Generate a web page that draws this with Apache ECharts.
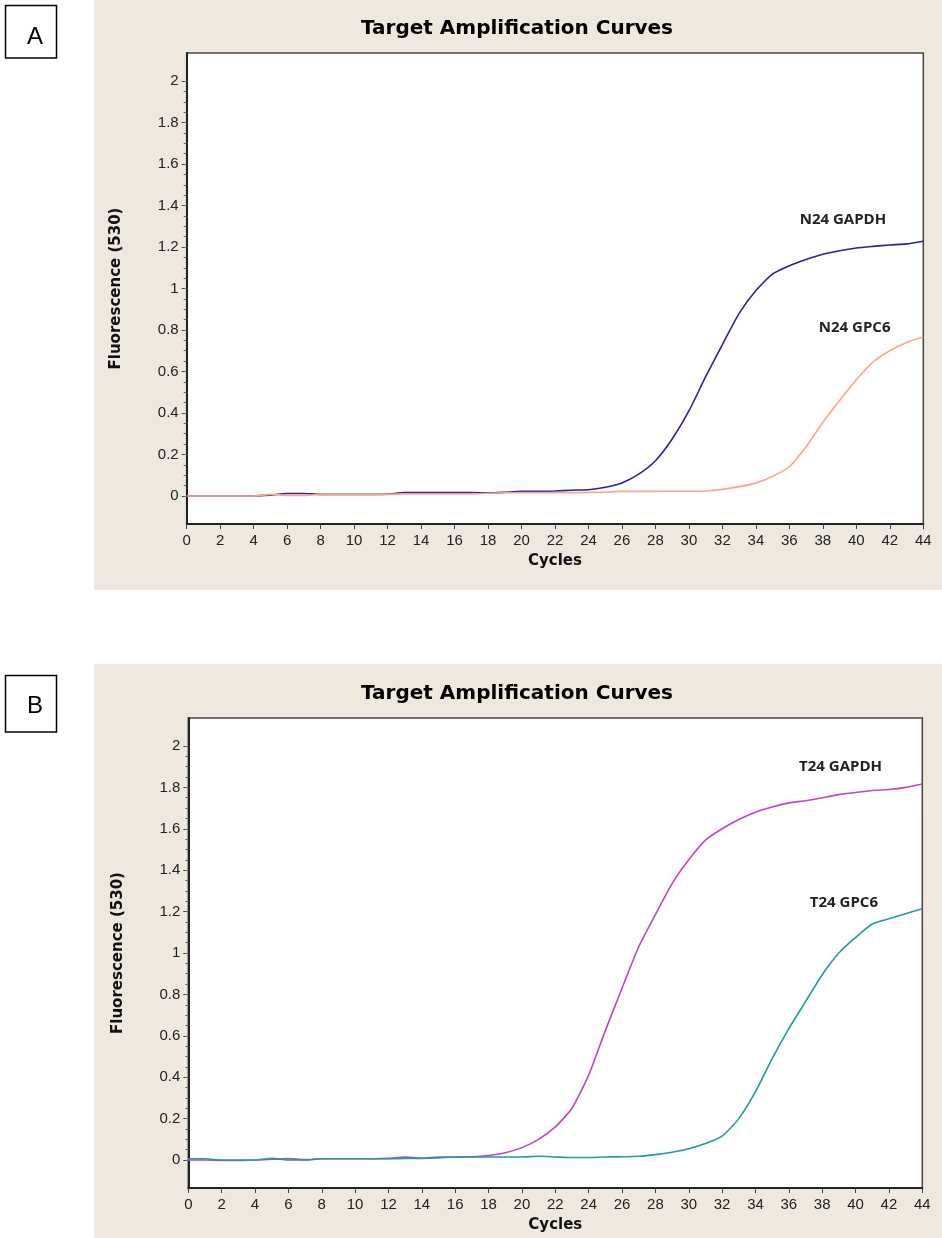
<!DOCTYPE html>
<html>
<head>
<meta charset="utf-8">
<script src="https://cdn.jsdelivr.net/npm/echarts@6/dist/echarts.min.js"></script>
<style>html,body{margin:0;padding:0;background:#fff;}#c{width:942px;height:1238px;}</style>
</head>
<body>
<div id="c"></div>
<script>
const cycles = [0,1,2,3,4,5,6,7,8,9,10,11,12,13,14,15,16,17,18,19,20,21,22,23,24,25,26,27,28,29,30,31,32,33,34,35,36,37,38,39,40,41,42,43,44];
const n24GAPDH = [0,0,0,0,0,0.004,0.012,0.012,0.008,0.008,0.008,0.008,0.009,0.016,0.016,0.016,0.016,0.016,0.015,0.018,0.022,0.022,0.024,0.028,0.03,0.042,0.063,0.105,0.17,0.275,0.41,0.575,0.73,0.88,0.99,1.07,1.11,1.14,1.165,1.182,1.195,1.203,1.21,1.215,1.228];
const n24GPC6 = [0,0,0,0,0,0.008,0.003,0.003,0.008,0.008,0.008,0.008,0.008,0.01,0.01,0.01,0.01,0.01,0.013,0.015,0.016,0.016,0.016,0.016,0.017,0.018,0.022,0.022,0.022,0.023,0.023,0.024,0.032,0.045,0.062,0.095,0.141,0.237,0.355,0.46,0.56,0.646,0.70,0.74,0.766];
const t24GAPDH = [0,0,-0.002,-0.002,0,0.004,0.007,0.002,0.006,0.006,0.006,0.006,0.008,0.014,0.009,0.014,0.014,0.016,0.022,0.035,0.06,0.1,0.16,0.25,0.41,0.625,0.83,1.03,1.185,1.335,1.45,1.545,1.6,1.645,1.68,1.705,1.725,1.735,1.75,1.765,1.775,1.785,1.79,1.8,1.816];
const t24GPC6 = [0.006,0.006,0,0,0,0.008,0,0,0.006,0.006,0.006,0.006,0.006,0.008,0.008,0.01,0.015,0.015,0.015,0.015,0.015,0.018,0.015,0.012,0.012,0.015,0.016,0.018,0.026,0.038,0.055,0.08,0.116,0.2,0.33,0.49,0.635,0.765,0.895,1.0,1.075,1.14,1.165,1.19,1.214];
const yTickLabels = [0,0.2,0.4,0.6,0.8,1,1.2,1.4,1.6,1.8,2];
const yMinorTicks = [0,0.05,0.1,0.15,0.2,0.25,0.3,0.35,0.4,0.45,0.5,0.55,0.6,0.65,0.7,0.75,0.8,0.85,0.9,0.95,1,1.05,1.1,1.15,1.2,1.25,1.3,1.35,1.4,1.45,1.5,1.55,1.6,1.65,1.7,1.75,1.8,1.85,1.9,1.95,2];
const titleText = 'Target Amplification Curves';
const xName = 'Cycles';
const yName = 'Fluorescence (530)';

const pair = (ys) => cycles.map((c, i) => [c, ys[i]]);
const chart = echarts.init(document.getElementById('c'), null, {renderer: 'canvas'});

const LABEL_FONT = 'Liberation Sans, Arial, sans-serif';
const BOLD_FONT = 'DejaVu Sans, sans-serif';

function xAxisFor(gi) {
  return {
    gridIndex: gi, type: 'value', min: 0, max: 44, interval: 2,
    name: xName, nameLocation: 'middle', nameGap: 30,
    nameTextStyle: {fontFamily: BOLD_FONT, fontWeight: 'bold', fontSize: 15, color: '#111'},
    axisLine: {show: true, onZero: false, lineStyle: {color: '#222', width: 2}},
    axisTick: {show: true, inside: false, length: 5, lineStyle: {color: '#444', width: 1}},
    axisLabel: {show: true, margin: 9, fontFamily: LABEL_FONT, fontSize: 15, color: '#222'},
    splitLine: {show: false}
  };
}
function yAxesFor(gi) {
  return [{
    gridIndex: gi, type: 'value', position: 'left', min: -0.135, max: 2.135,
    name: yName, nameLocation: 'middle', nameGap: 63, nameRotate: 90,
    nameTextStyle: {fontFamily: BOLD_FONT, fontWeight: 'bold', fontSize: 15, color: '#111'},
    axisLine: {show: true, onZero: false, lineStyle: {color: '#222', width: 2}},
    axisTick: {show: true, length: 5, customValues: yTickLabels, lineStyle: {color: '#444', width: 1}},
    axisLabel: {show: true, margin: 8, customValues: yTickLabels, fontFamily: LABEL_FONT, fontSize: 15, color: '#222',
      formatter: v => String(Number(v.toFixed(2)))},
    splitLine: {show: false}
  }, {
    gridIndex: gi, type: 'value', position: 'left', offset: 0, min: -0.135, max: 2.135,
    axisLine: {show: false},
    axisTick: {show: true, length: 3, customValues: yMinorTicks, lineStyle: {color: '#666', width: 1}},
    axisLabel: {show: false},
    splitLine: {show: false}
  }];
}
function lineSeries(name, data, color, xi, yi, lbl) {
  return {
    name, type: 'line', xAxisIndex: xi, yAxisIndex: yi, data: pair(data),
    showSymbol: false, symbol: 'none', smooth: 0.2, animation: false,
    lineStyle: {color, width: 1.6}, itemStyle: {color},
    markPoint: {
      symbol: 'circle', symbolSize: 0, silent: true, animation: false,
      label: {show: true, position: 'inside', formatter: '{b}', fontFamily: 'Open Sans, sans-serif', fontWeight: 'bold', fontSize: 15, color: '#222'},
      data: [{name: name, coord: lbl}]
    }
  };
}

const option = {
  animation: false,
  backgroundColor: '#ffffff',
  title: [
    {text: titleText, left: 512, top: 14, textAlign: 'center', textStyle: {fontFamily: BOLD_FONT, fontWeight: 'bold', fontSize: 20, color: '#000'}},
    {text: titleText, left: 512, top: 679, textAlign: 'center', textStyle: {fontFamily: BOLD_FONT, fontWeight: 'bold', fontSize: 20, color: '#000'}}
  ],
  graphic: [
    {type: 'rect', z: -10, silent: true, shape: {x: 94, y: 0, width: 848, height: 590}, style: {fill: '#EEE8DF'}},
    {type: 'rect', z: -10, silent: true, shape: {x: 94, y: 664, width: 848, height: 574}, style: {fill: '#EEE8DF'}},
    {type: 'rect', shape: {x: 5.5, y: 5.5, width: 51, height: 52.5}, style: {fill: '#fff', stroke: '#000', lineWidth: 1.5}},
    {type: 'text', x: 35, y: 37, style: {text: 'A', font: '24px "Liberation Sans", Arial, sans-serif', fill: '#000', textAlign: 'center', textVerticalAlign: 'middle'}},
    {type: 'rect', shape: {x: 5.5, y: 675.5, width: 51, height: 56.5}, style: {fill: '#fff', stroke: '#000', lineWidth: 1.5}},
    {type: 'text', x: 35, y: 706, style: {text: 'B', font: '24px "Liberation Sans", Arial, sans-serif', fill: '#000', textAlign: 'center', textVerticalAlign: 'middle'}}
  ],
  grid: [
    {left: 186.7, right: 18.7, top: 53, bottom: 714, show: true, backgroundColor: '#fff', borderColor: '#444', borderWidth: 1.5, containLabel: false},
    {left: 188.3, right: 19.7, top: 718, bottom: 50, show: true, backgroundColor: '#fff', borderColor: '#444', borderWidth: 1.5, containLabel: false}
  ],
  xAxis: [xAxisFor(0), xAxisFor(1)],
  yAxis: [...yAxesFor(0), ...yAxesFor(1)],
  series: [
    lineSeries('N24 GAPDH', n24GAPDH, '#2E1F9A', 0, 0, [39.2, 1.33]),
    lineSeries('N24 GPC6', n24GPC6, '#FFA38F', 0, 0, [39.9, 0.81]),
    lineSeries('T24 GAPDH', t24GAPDH, '#BF44C6', 1, 2, [39.1, 1.9]),
    lineSeries('T24 GPC6', t24GPC6, '#1F9C9C', 1, 2, [39.3, 1.243])
  ]
};
chart.setOption(option);
</script>
</body>
</html>
